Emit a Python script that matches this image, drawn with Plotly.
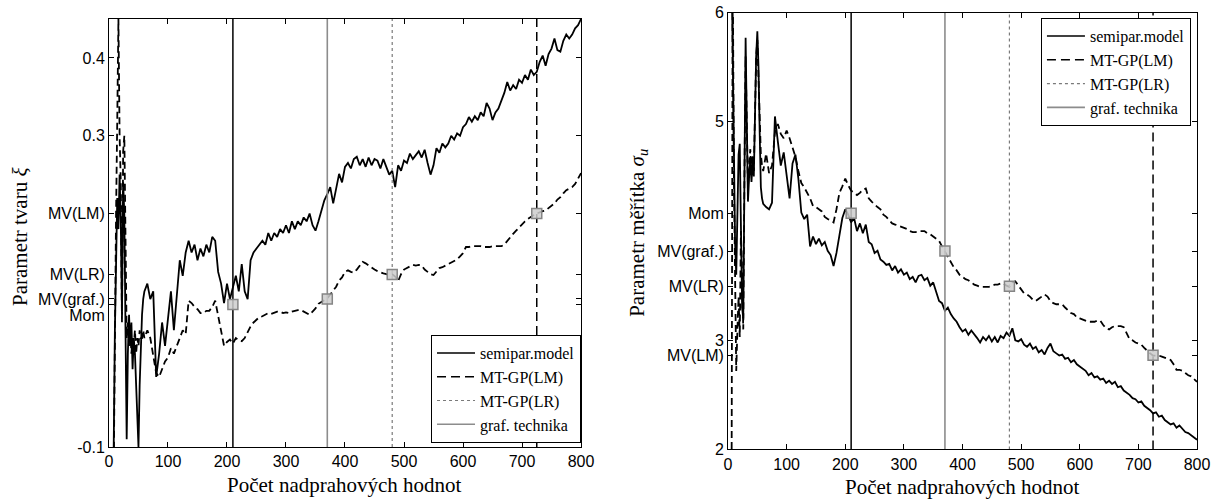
import plotly.graph_objects as go

# Number of exceedances above the threshold
n_exc = list(range(6, 62, 2)) + list(range(65, 805, 5))

# Shape parameter xi: moment (semiparametric) estimate
xi_mom = (
    [-0.15, -0.1, 0.05, 0.16, 0.22, 0.18, 0.25, 0.19, 0.07, 0.24, 0.2, 0.05, -0.09, 0.02,
     0.07, 0.03, 0.06, 0.0, 0.04, 0.02, -0.03, -0.08, -0.1, -0.02, 0.03, 0.07, 0.09, 0.1]
    + [0.11, 0.09, 0.10, -0.01, 0.02, 0.06, 0.03, 0.07]
    + [0.10, 0.05, 0.10, 0.14, 0.12, 0.15, 0.165, 0.15, 0.16, 0.14, 0.155, 0.145, 0.16, 0.15, 0.17, 0.165, 0.125, 0.11, 0.085, 0.11]
    + [0.09, 0.105, 0.12, 0.10, 0.135, 0.10, 0.09, 0.14, 0.15, 0.155, 0.16, 0.165, 0.16, 0.175, 0.165, 0.175, 0.17, 0.18, 0.175, 0.185]
    + [0.175, 0.19, 0.18, 0.19, 0.185, 0.195, 0.19, 0.2, 0.185, 0.178, 0.19, 0.205, 0.217, 0.225, 0.234, 0.213, 0.23, 0.251, 0.24, 0.26]
    + [0.265, 0.258, 0.27, 0.273, 0.262, 0.27, 0.26, 0.272, 0.262, 0.27, 0.268, 0.258, 0.27, 0.26, 0.25, 0.255, 0.234, 0.262, 0.255, 0.268]
    + [0.265, 0.277, 0.27, 0.275, 0.28, 0.272, 0.282, 0.265, 0.25, 0.262, 0.284, 0.278, 0.29, 0.285, 0.29, 0.3, 0.295, 0.303, 0.3, 0.311]
    + [0.315, 0.324, 0.318, 0.325, 0.32, 0.33, 0.325, 0.342, 0.335, 0.32, 0.33, 0.335, 0.345, 0.355, 0.369, 0.358, 0.365, 0.36, 0.372, 0.368]
    + [0.378, 0.372, 0.385, 0.378, 0.382, 0.395, 0.403, 0.39, 0.405, 0.412, 0.425, 0.41, 0.408, 0.422, 0.43, 0.425, 0.43, 0.438, 0.442, 0.45]
)

# Shape parameter xi: maximum likelihood estimate
xi_mv = (
    [-0.3, -0.1, 0.1, 0.2, 0.32, 0.45, 0.3, 0.24, 0.06, 0.28, 0.3, 0.12, 0.04, 0.06,
     0.03, 0.05, 0.02, 0.04, 0.03, 0.05, 0.02, 0.04, 0.03, 0.05, 0.04, 0.04, 0.05, 0.04]
    + [0.05, 0.04, 0.02, -0.005, -0.01, 0.0, 0.01, 0.015]
    + [0.027, 0.02, 0.03, 0.04, 0.05, 0.045, 0.088, 0.085, 0.08, 0.077, 0.072, 0.072, 0.075, 0.075, 0.08, 0.088, 0.07, 0.05, 0.03, 0.035]
    + [0.038, 0.033, 0.04, 0.037, 0.036, 0.04, 0.048, 0.055, 0.06, 0.064, 0.067, 0.068, 0.07, 0.072, 0.071, 0.073, 0.074, 0.074, 0.072, 0.073]
    + [0.072, 0.074, 0.075, 0.076, 0.076, 0.074, 0.072, 0.07, 0.074, 0.078, 0.084, 0.086, 0.088, 0.091, 0.096, 0.101, 0.106, 0.114, 0.118, 0.125]
    + [0.127, 0.125, 0.124, 0.128, 0.133, 0.138, 0.136, 0.133, 0.13, 0.128, 0.126, 0.124, 0.123, 0.122, 0.121, 0.122, 0.119, 0.113, 0.122, 0.128]
    + [0.13, 0.132, 0.134, 0.133, 0.134, 0.133, 0.128, 0.125, 0.122, 0.121, 0.125, 0.13, 0.131, 0.133, 0.135, 0.137, 0.138, 0.141, 0.145, 0.149]
    + [0.157, 0.157, 0.158, 0.158, 0.158, 0.158, 0.157, 0.157, 0.157, 0.158, 0.158, 0.158, 0.158, 0.16, 0.165, 0.17, 0.174, 0.178, 0.182, 0.187]
    + [0.19, 0.193, 0.196, 0.198, 0.2, 0.202, 0.203, 0.204, 0.207, 0.21, 0.213, 0.218, 0.221, 0.226, 0.23, 0.232, 0.234, 0.238, 0.245, 0.252]
)

# Scale parameter sigma_u: moment (semiparametric) estimate
sigma_mom = (
    [6.5, 5.5, 4.6, 3.9, 3.6, 4.2, 4.7, 4.8, 4.1, 3.3, 3.2, 4.8, 5.77, 5.0,
     4.27, 4.5, 4.65, 4.45, 4.65, 4.5, 5.1, 5.6, 5.83, 5.5, 4.9, 4.4, 4.3, 4.25]
    + [4.22, 4.2, 4.26, 5.05, 4.82, 4.6, 4.72, 4.5]
    + [4.3, 4.62, 4.7, 4.48, 4.17, 4.11, 4.15, 3.86, 3.95, 3.88, 3.93, 3.87, 3.9, 3.82, 3.78, 3.68, 3.8, 3.96, 4.12, 4.2]
    + [4.15, 4.08, 4.12, 4.0, 4.07, 3.98, 4.06, 3.9, 3.88, 3.8, 3.82, 3.74, 3.72, 3.69, 3.7, 3.64, 3.68, 3.62, 3.65, 3.6]
    + [3.62, 3.56, 3.58, 3.53, 3.59, 3.6, 3.55, 3.57, 3.5, 3.53, 3.44, 3.36, 3.34, 3.27, 3.3, 3.24, 3.2, 3.17, 3.12, 3.08]
    + [3.1, 3.05, 3.09, 3.06, 3.02, 2.98, 3.03, 3.0, 3.04, 2.99, 3.03, 2.98, 3.04, 3.02, 3.07, 3.04, 3.11, 3.0, 2.99, 3.01]
    + [2.96, 2.94, 2.97, 2.92, 2.94, 2.89, 2.91, 2.87, 2.93, 2.97, 2.9, 2.88, 2.86, 2.87, 2.83, 2.84, 2.8, 2.82, 2.78, 2.76]
    + [2.74, 2.72, 2.68, 2.7, 2.66, 2.67, 2.64, 2.65, 2.61, 2.63, 2.6, 2.62, 2.57, 2.58, 2.54, 2.52, 2.5, 2.47, 2.46, 2.43]
    + [2.44, 2.4, 2.38, 2.36, 2.33, 2.34, 2.3, 2.31, 2.27, 2.25, 2.23, 2.24, 2.2, 2.22, 2.19, 2.16, 2.15, 2.13, 2.11, 2.09]
)

# Scale parameter sigma_u: maximum likelihood estimate
sigma_mv = (
    [1.5, 6.5, 4.5, 3.2, 2.72, 3.1, 3.4, 3.03, 4.0, 3.6, 3.1, 4.5, 5.6, 5.0,
     4.4, 4.6, 4.75, 4.5, 4.7, 4.55, 5.0, 5.6, 5.75, 5.4, 5.0, 4.7, 4.6, 4.55]
    + [4.71, 4.53, 4.6, 4.9, 4.98, 4.89, 4.85, 4.92]
    + [4.85, 4.77, 4.68, 4.55, 4.44, 4.4, 4.35, 4.3, 4.23, 4.22, 4.2, 4.18, 4.13, 4.11, 4.1, 4.08, 4.2, 4.35, 4.41, 4.48]
    + [4.42, 4.37, 4.35, 4.33, 4.35, 4.38, 4.39, 4.3, 4.27, 4.24, 4.22, 4.2, 4.15, 4.13, 4.1, 4.07, 4.06, 4.05, 4.04, 4.03]
    + [4.02, 4.0, 3.99, 3.99, 4.0, 4.0, 4.0, 3.98, 3.97, 3.95, 3.93, 3.91, 3.86, 3.81, 3.76, 3.72, 3.67, 3.64, 3.6, 3.58]
    + [3.56, 3.55, 3.53, 3.51, 3.5, 3.49, 3.49, 3.49, 3.49, 3.5, 3.51, 3.51, 3.52, 3.52, 3.5, 3.49, 3.53, 3.54, 3.5, 3.46]
    + [3.43, 3.42, 3.4, 3.37, 3.36, 3.38, 3.4, 3.42, 3.4, 3.36, 3.34, 3.33, 3.33, 3.33, 3.3, 3.27, 3.25, 3.24, 3.21, 3.2]
    + [3.19, 3.18, 3.17, 3.17, 3.17, 3.18, 3.18, 3.14, 3.11, 3.1, 3.12, 3.13, 3.13, 3.13, 3.12, 3.06, 3.01, 3.0, 2.98, 2.97]
    + [2.96, 2.93, 2.9, 2.88, 2.86, 2.86, 2.86, 2.85, 2.84, 2.83, 2.82, 2.78, 2.73, 2.73, 2.72, 2.7, 2.68, 2.67, 2.64, 2.62]
)

for series in (xi_mom, xi_mv, sigma_mom, sigma_mv):
    assert len(series) == len(n_exc), len(series)

# Threshold choices by method and the resulting estimates
methods = ["semipar.model", "MT-GP(LM)", "MT-GP(LR)", "graf. technika"]
method_k = [210, 725, 480, 370]
est_labels = ["Mom", "MV(LM)", "MV(LR)", "MV(graf.)"]
xi_est = [0.083, 0.200, 0.1216, 0.0903]
sigma_est = [4.164, 2.864, 3.495, 3.817]

xi_range = [-0.1, 0.45]
sigma_range = [2, 6]
x_ticks = [0, 100, 200, 300, 400, 500, 600, 700, 800]
xi_ticks = [-0.1, 0.3, 0.4]
sigma_ticks = [2, 3, 5, 6]

method_lines = [
    dict(color="black", width=1.5, dash="solid"),
    dict(color="black", width=1.5, dash="9px,5px"),
    dict(color="#7a7a7a", width=1.2, dash="dot"),
    dict(color="#8c8c8c", width=1.6, dash="solid"),
]

fig = go.Figure()

panels = [
    ("x", "y", "legend", xi_mom, xi_mv, xi_est, xi_range),
    ("x2", "y2", "legend2", sigma_mom, sigma_mv, sigma_est, sigma_range),
]

for xa, ya, leg, mom, mv, est, yr in panels:
    fig.add_trace(go.Scatter(x=n_exc, y=mom, mode="lines", xaxis=xa, yaxis=ya,
                             line=dict(color="black", width=1.8), showlegend=False))
    fig.add_trace(go.Scatter(x=n_exc, y=mv, mode="lines", xaxis=xa, yaxis=ya,
                             line=dict(color="black", width=1.8, dash="7px,4px"), showlegend=False))
    for name, k, style in zip(methods, method_k, method_lines):
        fig.add_trace(go.Scatter(x=[k, k], y=yr, mode="lines", xaxis=xa, yaxis=ya,
                                 name=name, line=style, legend=leg))
    fig.add_trace(go.Scatter(x=method_k, y=est, mode="markers", xaxis=xa, yaxis=ya,
                             marker=dict(symbol="square", size=10, color="rgba(205,205,205,0.85)",
                                         line=dict(color="#858585", width=1.5)),
                             showlegend=False))

SANS = "Liberation Sans"
SERIF = "Liberation Serif"
tick_font = dict(family=SANS, size=16, color="black")
title_font = dict(family=SERIF, size=21, color="black")
legend_font = dict(family=SERIF, size=16, color="black")

axis_common = dict(showline=True, linecolor="black", linewidth=1, mirror="ticks",
                   ticks="inside", ticklen=5, tickcolor="black", showgrid=False,
                   zeroline=False, tickfont=tick_font, automargin=False)

xi_tickvals = xi_ticks + xi_est
xi_ticktext = [str(v) for v in xi_ticks] + ["<br>" + est_labels[0]] + est_labels[1:]
sigma_tickvals = sigma_ticks + sigma_est
sigma_ticktext = [str(v) for v in sigma_ticks] + est_labels

fig.update_layout(
    width=1215, height=501,
    margin=dict(l=0, r=0, t=0, b=0),
    paper_bgcolor="white", plot_bgcolor="white",
    xaxis=dict(domain=[0.0897, 0.4782], range=[0, 800], tickvals=x_ticks, anchor="y",
               **axis_common),
    yaxis=dict(domain=[0.1078, 0.9621], range=xi_range, tickvals=xi_tickvals,
               ticktext=xi_ticktext, anchor="x", **axis_common),
    xaxis2=dict(domain=[0.5992, 0.9852], range=[0, 800], tickvals=x_ticks, anchor="y2",
                **axis_common),
    yaxis2=dict(domain=[0.1028, 0.9747], range=sigma_range, tickvals=sigma_tickvals,
                ticktext=sigma_ticktext, anchor="x2", **axis_common),
    legend=dict(x=0.4782, y=0.1158, xanchor="right", yanchor="bottom", bgcolor="white",
                bordercolor="black", borderwidth=1, font=legend_font, itemwidth=38,
                tracegroupgap=0),
    legend2=dict(x=0.9802, y=0.964, xanchor="right", yanchor="top", bgcolor="white",
                 bordercolor="black", borderwidth=1, font=legend_font, itemwidth=38,
                 tracegroupgap=0),
)

# Axis titles
titles = [
    dict(text="Počet nadprahových hodnot", x=0.2839, y=0.031, textangle=0, yanchor="middle"),
    dict(text="Počet nadprahových hodnot", x=0.792, y=0.0, textangle=0, yanchor="bottom"),
    dict(text="Parametr tvaru <i>ξ</i>", x=0.0165, y=0.527, textangle=-90, yanchor="middle"),
    dict(text="Parametr měřítka <i>σ</i><sub><i>u</i></sub>", x=0.525, y=0.535, textangle=-90,
         yanchor="middle"),
]
for t in titles:
    fig.add_annotation(xref="paper", yref="paper", x=t["x"], y=t["y"], text=t["text"],
                       textangle=t["textangle"], showarrow=False, font=title_font,
                       xanchor="center", yanchor=t["yanchor"])

fig.write_html("out.html")
